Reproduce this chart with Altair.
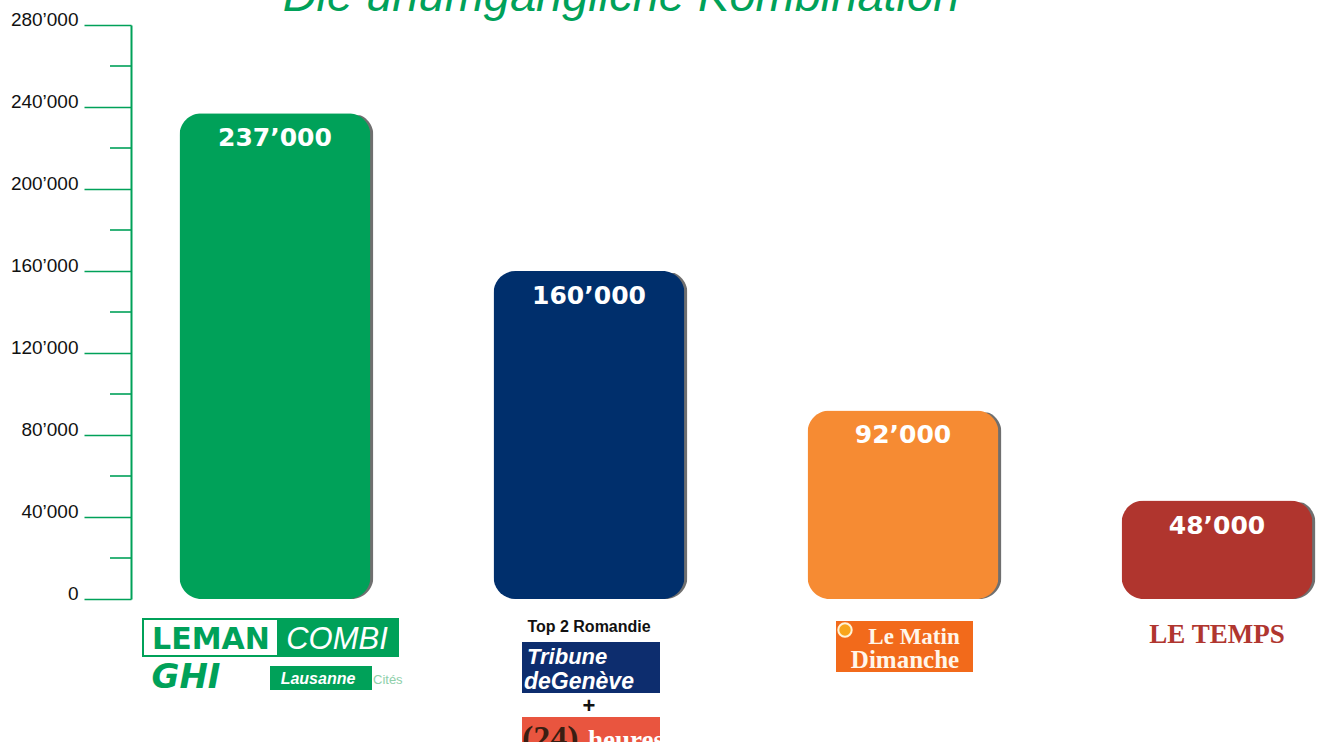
import altair as alt
import pandas as pd

# ---- data ----
categories = ["Leman Combi", "Top 2 Romandie", "Le Matin Dimanche", "Le Temps"]
readers = [237000, 160000, 92000, 48000]
bar_colors = ["#00A159", "#002F6C", "#F68B33", "#B0352E"]
major_ticks = [0, 40000, 80000, 120000, 160000, 200000, 240000, 280000]
minor_ticks = [20000, 60000, 100000, 140000, 180000, 220000, 260000]
title_text = "Die unumgängliche Kombination"

GREEN = "#00A159"
LEFT, TOP = 131, 25
W, H = 1186, 574

df = pd.DataFrame({"cat": categories, "value": readers, "color": bar_colors})
minor_df = pd.DataFrame({"value": minor_ticks})

x_enc = alt.X(
    "cat:N", sort=categories, axis=None,
    scale=alt.Scale(paddingInner=0.392, paddingOuter=0.0844, align=0.915),
)
y_enc = alt.Y(
    "value:Q", title=None,
    scale=alt.Scale(domain=[0, 280000], nice=False, zero=True),
    axis=alt.Axis(
        values=major_ticks,
        labelExpr="replace(format(datum.value, ','), ',', '\u2019')",
        tickSize=47, tickColor=GREEN, tickWidth=1.6,
        domainColor=GREEN, domainWidth=2, grid=False,
        labelFont="Liberation Sans", labelFontSize=19, labelColor="#111111",
        labelPadding=6, labelBaseline="alphabetic", labelAlign="right",
        labelOverlap=False,
    ),
)

base = alt.Chart(df)
shadow = base.mark_bar(cornerRadius=22, color="#3f3f3f", opacity=0.75, xOffset=3, yOffset=2).encode(x=x_enc, y=y_enc)
bars = base.mark_bar(cornerRadius=22).encode(x=x_enc, y=y_enc, color=alt.Color("color:N", scale=None))
labels = base.transform_calculate(
    label="replace(format(datum.value, ','), ',', '\u2019')"
).mark_text(
    font="DejaVu Sans", fontWeight="bold", fontSize=25, color="white",
    baseline="alphabetic", dy=33,
).encode(x=x_enc, y=y_enc, text="label:N")

minor = alt.Chart(minor_df).mark_rule(color=GREEN, strokeWidth=1.6).encode(
    y=y_enc, x=alt.value(-21), x2=alt.value(0)
)


def txt(s, X, Y, size, color, font="Liberation Sans", weight="normal",
        style="normal", align="center", baseline="alphabetic"):
    return alt.Chart(alt.Data(values=[{"t": s}])).mark_text(
        font=font, fontSize=size, fontWeight=weight, fontStyle=style,
        color=color, align=align, baseline=baseline,
    ).encode(x=alt.value(X - LEFT), y=alt.value(Y - TOP), text="t:N")


def rect(X1, Y1, X2, Y2, fill, stroke=None, sw=0):
    kw = dict(fill=fill)
    if stroke:
        kw.update(stroke=stroke, strokeWidth=sw)
    return alt.Chart(alt.Data(values=[{}])).mark_rect(**kw).encode(
        x=alt.value(X1 - LEFT), x2=alt.value(X2 - LEFT),
        y=alt.value(Y1 - TOP), y2=alt.value(Y2 - TOP),
    )


title = txt(title_text, 621, 11, 47, GREEN, style="italic")

logos = [
    # Leman Combi
    rect(143, 619, 398, 656, "white", GREEN, 2),
    rect(277, 619, 398, 656, GREEN),
    txt("LEMAN", 211, 649, 30, GREEN, font="DejaVu Sans", weight="bold"),
    txt("COMBI", 337, 649, 31, "white", style="italic"),
    txt("GHI", 186, 688, 34, GREEN, font="DejaVu Sans", weight="bold", style="italic"),
    rect(270, 666, 372, 690, GREEN),
    txt("Lausanne", 318, 684, 16, "white", weight="bold", style="italic"),
    txt("Cités", 373, 684, 13, "#8fd0aa", align="left"),
    # Top 2 Romandie
    txt("Top 2 Romandie", 589, 632, 16, "#111111", weight="bold"),
    rect(522, 642, 660, 693, "#0d2d6e"),
    txt("Tribune", 527, 664, 22, "white", weight="bold", style="italic", align="left"),
    txt("deGenève", 524, 689, 23, "white", weight="bold", style="italic", align="left"),
    txt("+", 589, 706, 22, "#111111", weight="bold", baseline="middle"),
    rect(522, 717, 660, 742, "#E9553F"),
    txt("(24)", 522, 749, 34, "#3a1e12", font="Liberation Serif", weight="bold", align="left"),
    txt("heures", 588, 749, 27, "white", font="Liberation Serif", weight="bold", align="left"),
    # Le Matin Dimanche
    rect(836, 621, 973, 672, "#F26A1B"),
    txt("Le Matin", 914, 644, 23, "#fff6ea", font="Liberation Serif", weight="bold"),
    txt("Dimanche", 905, 668, 25, "#fff6ea", font="Liberation Serif", weight="bold"),
    alt.Chart(alt.Data(values=[{}])).mark_circle(
        size=180, color="#F8A51B", opacity=1, stroke="#fff3d6", strokeWidth=2
    ).encode(x=alt.value(845 - LEFT), y=alt.value(630 - TOP)),
    # Le Temps
    txt("LE TEMPS", 1217, 643, 27, "#B0362F", font="Liberation Serif", weight="bold"),
]

chart = alt.layer(shadow, bars, labels, minor, title, *logos).properties(
    width=W, height=H,
    padding={"left": LEFT, "top": TOP, "right": 0, "bottom": 742 - TOP - H},
    autosize=alt.AutoSizeParams(type="none"),
    background="white",
).configure_view(stroke=None)

chart.save("out.html", embed_options={"renderer": "svg", "actions": False})
